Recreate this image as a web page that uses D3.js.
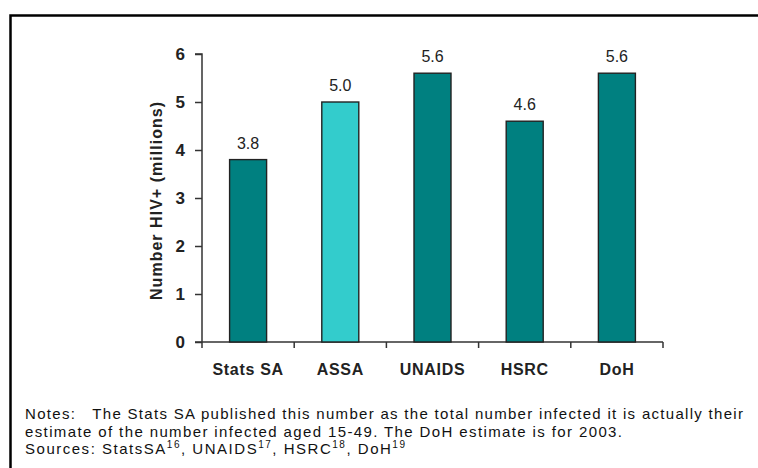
<!DOCTYPE html>
<html>
<head>
<meta charset="utf-8">
<script src="https://cdn.jsdelivr.net/npm/d3@7"></script>
<style>
  body { margin: 0; background: #fff; }
  svg { font-family: "Liberation Sans", Arial, sans-serif; display: block; }
  .axis path, .axis line { stroke: #333; stroke-width: 1.5; }
  .note { white-space: pre; }
</style>
</head>
<body>
<svg id="chart" width="758" height="468"></svg>
<script>
// data
var categories = ['Stats SA', 'ASSA', 'UNAIDS', 'HSRC', 'DoH'];
var values = [3.8, 5.0, 5.6, 4.6, 5.6];
var barColors = ['#008080', '#33CCCC', '#008080', '#008080', '#008080'];
var yTicks = [0, 1, 2, 3, 4, 5, 6];
var notes = [
  'Notes:   The Stats SA published this number as the total number infected it is actually their',
  'estimate of the number infected aged 15-49. The DoH estimate is for 2003.'
];
var noteWidths = [718, 597];
var sources = [['StatsSA', '16'], ['UNAIDS', '17'], ['HSRC', '18'], ['DoH', '19']];

var svg = d3.select('#chart');

// frame (cropped on the right and bottom)
svg.append('path')
    .attr('d', 'M10.5,468 V15.5 H758')
    .attr('fill', 'none')
    .attr('stroke', '#000')
    .attr('stroke-width', 2.5);

var x = d3.scaleBand().domain(categories).range([202, 663]);
var y = d3.scaleLinear().domain([0, 6]).range([342, 54]);

// y axis
var yAxis = svg.append('g')
    .attr('class', 'axis')
    .attr('transform', 'translate(202,0)')
    .call(d3.axisLeft(y).tickValues(yTicks).tickSize(7).tickSizeOuter(7).tickFormat(d3.format('d')));
yAxis.attr('font-size', 17);
yAxis.selectAll('text')
    .attr('x', -17)
    .style('font-size', '17px')
    .style('font-weight', 'bold')
    .attr('fill', '#222');
yAxis.select('.domain').attr('d', 'M-7,54H0V342');

// x axis: line + ticks at band edges
var xg = svg.append('g').attr('class', 'axis');
xg.append('line')
    .attr('x1', 195).attr('x2', 663)
    .attr('y1', 342).attr('y2', 342);
var edges = categories.map(function (c) { return x(c); }).concat([x.range()[1]]);
xg.selectAll('.xt').data(edges).enter().append('line')
    .attr('class', 'xt')
    .attr('x1', function (d) { return d; })
    .attr('x2', function (d) { return d; })
    .attr('y1', 342).attr('y2', 348);
xg.selectAll('.xl').data(categories).enter().append('text')
    .attr('class', 'xl')
    .attr('x', function (d) { return x(d) + x.bandwidth() / 2; })
    .attr('y', 375)
    .attr('text-anchor', 'middle')
    .style('font-size', '16px')
    .style('font-weight', 'bold')
    .style('letter-spacing', '0.7px')
    .attr('fill', '#222')
    .text(function (d) { return d; });

// bars
var barW = 37;
svg.selectAll('.bar').data(values).enter().append('rect')
    .attr('class', 'bar')
    .attr('x', function (d, i) { return x(categories[i]) + x.bandwidth() / 2 - barW / 2; })
    .attr('y', function (d) { return y(d); })
    .attr('width', barW)
    .attr('height', function (d) { return y(0) - y(d); })
    .attr('fill', function (d, i) { return barColors[i]; })
    .attr('stroke', '#222')
    .attr('stroke-width', 1.4);

// value labels
svg.selectAll('.val').data(values).enter().append('text')
    .attr('class', 'val')
    .attr('x', function (d, i) { return x(categories[i]) + x.bandwidth() / 2; })
    .attr('y', function (d) { return y(d) - 11; })
    .attr('text-anchor', 'middle')
    .style('font-size', '16px')
    .attr('fill', '#222')
    .text(function (d) { return d3.format('.1f')(d); });

// y axis title
svg.append('text')
    .attr('transform', 'translate(162,201) rotate(-90)')
    .attr('text-anchor', 'middle')
    .attr('textLength', 198)
    .attr('lengthAdjust', 'spacing')
    .style('font-size', '16px')
    .style('font-weight', 'bold')
    .attr('fill', '#222')
    .text('Number HIV+ (millions)');

// notes
svg.selectAll('.note').data(notes).enter().append('text')
    .attr('class', 'note')
    .attr('x', 25)
    .attr('y', function (d, i) { return 419 + i * 17.5; })
    .attr('textLength', function (d, i) { return noteWidths[i]; })
    .attr('lengthAdjust', 'spacing')
    .style('font-size', '15px')
    .attr('fill', '#111')
    .text(function (d) { return d; });

var src = svg.append('text')
    .attr('x', 25).attr('y', 454)
    .attr('textLength', 380)
    .attr('lengthAdjust', 'spacing')
    .style('font-size', '15px')
    .attr('fill', '#111');
src.append('tspan').text('Sources: ');
sources.forEach(function (s, i) {
  src.append('tspan').text(s[0]);
  src.append('tspan').attr('dy', -6).style('font-size', '10px').text(s[1]);
  src.append('tspan').attr('dy', 6).text(i < sources.length - 1 ? ', ' : '');
});
</script>
</body>
</html>
